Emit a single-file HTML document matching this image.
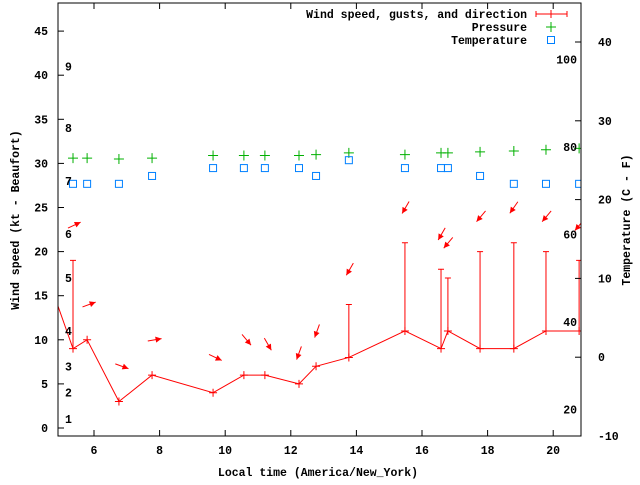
<!DOCTYPE html>
<html><head><meta charset="utf-8"><style>
body{margin:0;background:#fff}
svg text{font-family:"Liberation Mono",monospace;font-size:11.5px;font-weight:bold;fill:#000}
</style></head><body>
<svg id="c" width="640" height="480" xmlns="http://www.w3.org/2000/svg"></svg>
<script>
const times=[5.36,5.79,6.76,7.77,9.63,10.57,11.21,12.25,12.77,13.77,15.48,16.58,16.79,17.77,18.8,19.78,20.79];
const windSpeed=[9,10,3,6,4,6,6,5,7,8,11,9,11,9,9,11,11];
const windGust=[19,null,null,null,null,null,null,null,null,14,21,18,17,20,21,20,19];
const prevTime=4.6, prevSpeed=17;
const pressure=[30.6,30.6,30.5,30.6,30.9,30.9,30.9,30.9,31.0,31.2,31.0,31.2,31.2,31.3,31.4,31.55,31.7];
const tempC=[22,22,22,23,24,24,24,24,23,25,24,24,24,23,22,22,22];
const arrowTimes=[5.4,5.85,6.85,7.85,9.7,10.65,11.3,12.25,12.8,13.8,15.5,16.6,16.8,17.8,18.8,19.8,20.8];
const arrowKt=[23,14,7,10,8,10,9.5,8.5,11,18,25,22,21,24,25,24,23];
const arrowDir=[-25,-20,20,-10,25,50,60,110,110,120,120,120,130,130,125,130,130];
const xTicks=[6,8,10,12,14,16,18,20];
const yTicks=[0,5,10,15,20,25,30,35,40,45];
const y2Ticks=[-10,0,10,20,30,40];
const fTicks=[20,40,60,80,100];
const beaufortKt=[1,4,7,11,17,22,28,34,41];

const NS="http://www.w3.org/2000/svg",svg=document.getElementById('c');
const L=58,R=581,T=3,B=436;
const X=t=>94+(t-6)*32.8;
const Y=k=>428-k*8.82;
const Y2=c=>436-(c+10)*7.88;
function el(tag,a,txt,p){const e=document.createElementNS(NS,tag);for(const k in a)e.setAttribute(k,a[k]);if(txt!=null)e.textContent=txt;(p||svg).appendChild(e);return e;}
const defs=el('defs',{});const cp=el('clipPath',{id:'clip'},null,defs);el('rect',{x:L,y:T,width:R-L,height:B-T},null,cp);
const g=el('g',{'clip-path':'url(#clip)'});
const fr=el('rect',{x:L,y:T,width:R-L,height:B-T,fill:'none',stroke:'#000','stroke-width':1});

xTicks.forEach(t=>{const x=X(t);
 el('line',{x1:x,y1:B,x2:x,y2:B-6,stroke:'#000'});el('line',{x1:x,y1:T,x2:x,y2:T+6,stroke:'#000'});
 const tx=el('text',{x:x,y:B+18,'text-anchor':'middle'},t);});
yTicks.forEach(v=>{const y=Y(v);el('line',{x1:L,y1:y,x2:L+6,y2:y,stroke:'#000'});
 const tx=el('text',{x:48,y:y+4,'text-anchor':'end'},v);});
y2Ticks.forEach(v=>{const y=Y2(v);el('line',{x1:R,y1:y,x2:R-6,y2:y,stroke:'#000'});
 const tx=el('text',{x:598,y:y+4},v);});
fTicks.forEach(f=>{const tx=el('text',{x:577,y:Y2((f-32)*5/9)+4,'text-anchor':'end'},f);});
beaufortKt.forEach((k,i)=>{const tx=el('text',{x:65,y:Y(k)+4},i+1);});
let pts=[[X(prevTime),Y(prevSpeed)]].concat(times.map((t,i)=>[X(t),Y(windSpeed[i])]));
const pl=el('polyline',{points:pts.map(p=>p.join(',')).join(' '),fill:'none',stroke:'#f00'},null,g);

times.forEach((t,i)=>{const x=X(t),y=Y(windSpeed[i]);
 el('path',{d:`M${x-4},${y}H${x+4}M${x},${y-4}V${y+4}`,stroke:'#f00'},null,g);
 if(windGust[i]!=null){const yg=Y(windGust[i]);
  const gl=el('path',{d:`M${x},${y}V${yg}M${x-3},${yg}H${x+3}`,stroke:'#f00'},null,g);
  }});
pressure.forEach((p,i)=>{const x=X(times[i]),y=Y(p);
 const m=el('path',{d:`M${x-5},${y}H${x+5}M${x},${y-5}V${y+5}`,stroke:'#00b000'},null,g);
 });
tempC.forEach((c,i)=>{const x=X(times[i]),y=Y2(c);
 const m=el('rect',{x:x-3.5,y:y-3.5,width:7,height:7,fill:'none',stroke:'#0080ff'},null,g);
 });
arrowTimes.forEach((t,i)=>{const cx=X(t),cy=Y(arrowKt[i]),a=arrowDir[i]*Math.PI/180,dx=Math.cos(a),dy=Math.sin(a);
 const x1=cx-dx*7,y1=cy-dy*7,x2=cx+dx*7,y2=cy+dy*7;
 const ag=el('g',{},null,g);
 el('line',{x1,y1,x2,y2,stroke:'#f00'},null,ag);
 const px=-dy,py=dx;
 el('polygon',{points:`${x2},${y2} ${x2-dx*6+px*3},${y2-dy*6+py*3} ${x2-dx*6-px*3},${y2-dy*6-py*3}`,fill:'#f00'},null,ag);});
const lg=el('g',{});
el('text',{x:527,y:18,'text-anchor':'end'},'Wind speed, gusts, and direction',lg);
el('path',{d:'M536,14H567M536,11V17M567,11V17M551,10V18',stroke:'#f00'},null,lg);
el('text',{x:527,y:31,'text-anchor':'end'},'Pressure',lg);
el('path',{d:'M546,27H556M551,22V32',stroke:'#00b000'},null,lg);
el('text',{x:527,y:44,'text-anchor':'end'},'Temperature',lg);
el('rect',{x:547.5,y:36.5,width:7,height:7,fill:'none',stroke:'#0080ff'},null,lg);
let t1=el('text',{x:318,y:476,'text-anchor':'middle'},'Local time (America/New_York)');
let t2=el('text',{transform:'translate(19,220) rotate(-90)','text-anchor':'middle'},'Wind speed (kt - Beaufort)');
let t3=el('text',{transform:'translate(630,220) rotate(-90)','text-anchor':'middle'},'Temperature (C - F)');
</script>
</body></html>
